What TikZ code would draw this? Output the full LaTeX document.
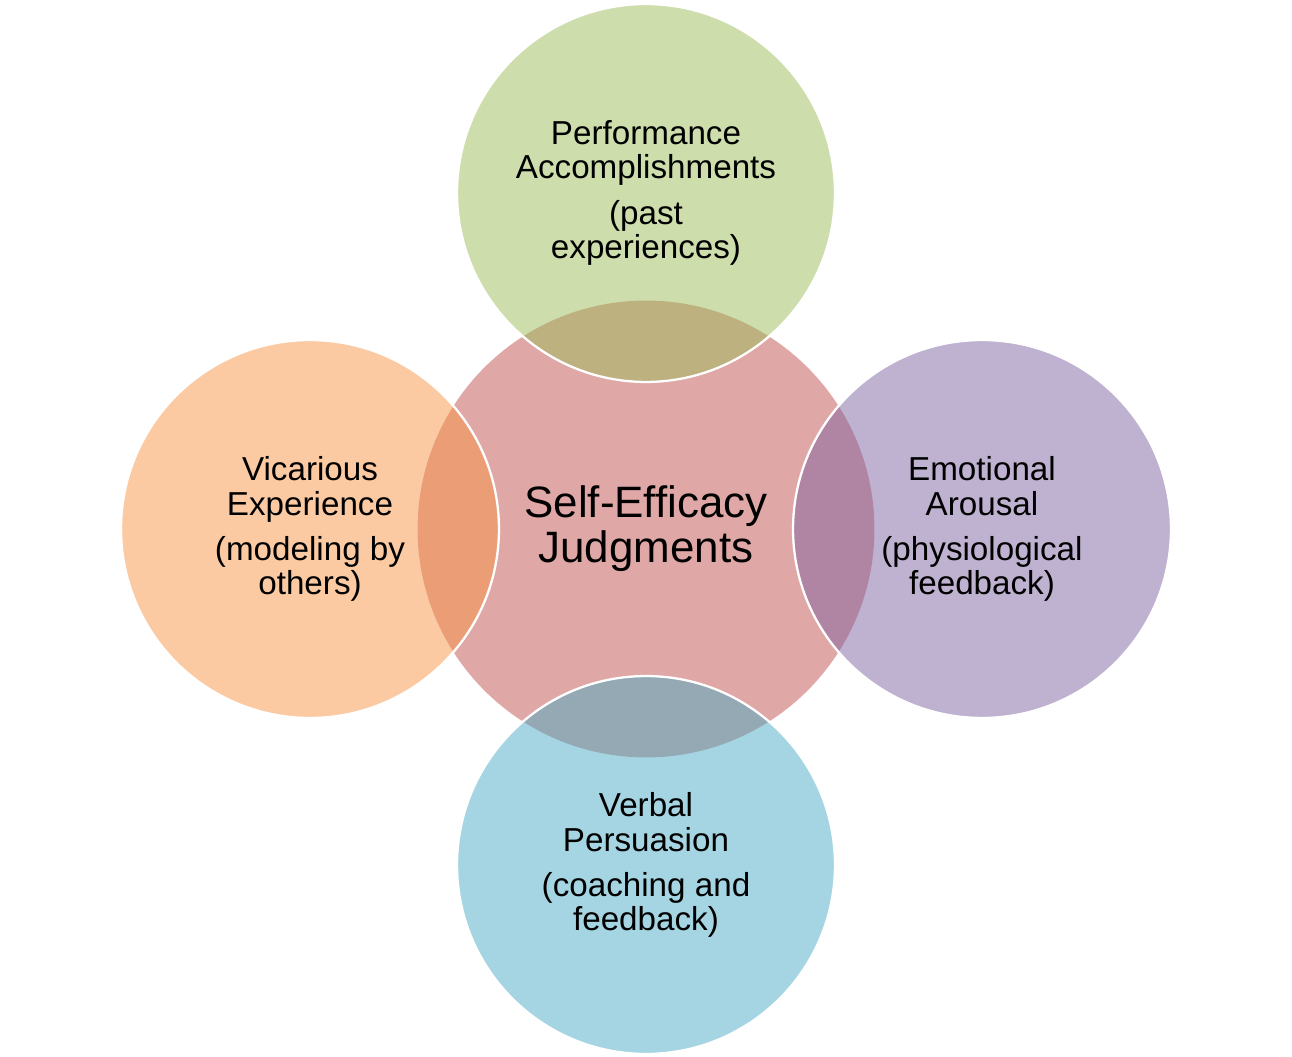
\documentclass[tikz,border=0pt]{standalone}
\usepackage{fontspec}
\setmainfont{Liberation Sans}
\definecolor{cpink}{HTML}{C0504D}
\definecolor{cgreen}{HTML}{9BBB59}
\definecolor{corange}{HTML}{F79646}
\definecolor{cpurple}{HTML}{8064A2}
\definecolor{cblue}{HTML}{4BACC6}
\tikzset{
  bubble/.style={circle, inner sep=0pt, minimum size=7.56cm, fill=#1, fill opacity=0.5,
     text opacity=1, draw=white, line width=1.3pt, align=center, text=black,
     font=\fontsize{18.9}{19.4}\selectfont},
  hub/.style={circle, inner sep=0pt, minimum size=9.14cm, fill=cpink, fill opacity=0.5,
     text opacity=1, align=center, text=black,
     font=\fontsize{25}{25.6}\selectfont}
}
\begin{document}
\begin{tikzpicture}[x=0.02cm,y=-0.02cm]
\useasboundingbox (0,0) rectangle (1292,1057);
\node[hub] (hub) at (646,529) {Self-Efficacy\\Judgments};
\node[bubble=cgreen] (perf) at (646,193) {Performance\\Accomplishments\\[6.3pt](past\\experiences)};
\node[bubble=corange] (vic) at (310,529) {Vicarious\\Experience\\[6.3pt](modeling by\\others)};
\node[bubble=cpurple] (emo) at (982,529) {Emotional\\Arousal\\[6.3pt](physiological\\feedback)};
\node[bubble=cblue] (verb) at (646,865) {Verbal\\Persuasion\\[6.3pt](coaching and\\feedback)};
\end{tikzpicture}
\end{document}
